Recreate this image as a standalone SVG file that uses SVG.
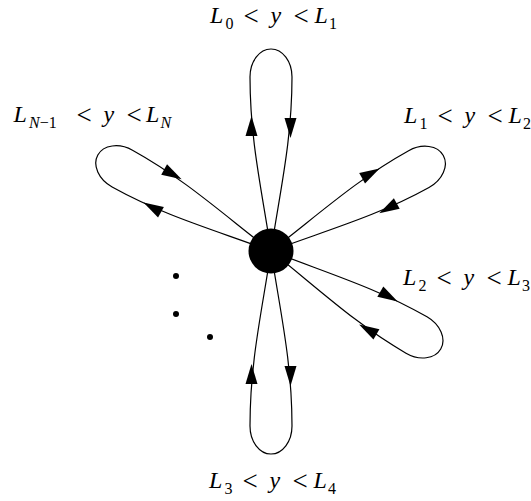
<svg xmlns="http://www.w3.org/2000/svg" xmlns:xlink="http://www.w3.org/1999/xlink" width="531" height="501" viewBox="0 0 531 501">
<style>
.loop{fill:none;stroke:#000;stroke-width:1.2}
.ah{fill:#000;stroke:none}
text{font-family:'Liberation Serif','Times New Roman',Times,serif;font-size:24px;fill:#000}
.it{font-style:italic}
.sub{font-size:16px}
.rel{font-size:27px}
</style>
<defs>
<polygon id="arrOut" class="ah" points="135,-19.5 115,-25.5 115,-13.5"/>
<polygon id="arrIn" class="ah" points="113,19.5 133,13.5 133,25.5"/>
</defs>
<rect width="531" height="501" fill="#fff"/>
<g id="connectors">
<g id="loop-top" transform="translate(271,251) rotate(-90)"><path class="loop" d="M0,0 C60,-9 110,-21 174,-21 C189.5,-21 202,-11.6 202,0 C202,11.6 189.5,21 174,21 C110,21 60,9 0,0"/><use xlink:href="#arrOut"/><use xlink:href="#arrIn"/></g>
<g id="loop-right-upper" transform="translate(271,251) rotate(-29)"><path class="loop" d="M0,0 C60,-9 110,-21 169,-21 C184.5,-21 197,-11.6 197,0 C197,11.6 184.5,21 169,21 C110,21 60,9 0,0"/><use xlink:href="#arrOut"/><use xlink:href="#arrIn"/></g>
<g id="loop-right-lower" transform="translate(271,251) rotate(30)"><path class="loop" d="M0,0 C60,-9 110,-21 168,-21 C183.5,-21 196,-11.6 196,0 C196,11.6 183.5,21 168,21 C110,21 60,9 0,0"/><use xlink:href="#arrOut"/><use xlink:href="#arrIn"/></g>
<g id="loop-bottom" transform="translate(271,251) rotate(90)"><path class="loop" d="M0,0 C60,-9 110,-21 175,-21 C190.5,-21 203,-11.6 203,0 C203,11.6 190.5,21 175,21 C110,21 60,9 0,0"/><use xlink:href="#arrOut"/><use xlink:href="#arrIn"/></g>
<g id="loop-left" transform="translate(271,251) rotate(209)"><path class="loop" d="M0,0 C60,-9 110,-21 170,-21 C185.5,-21 198,-11.6 198,0 C198,11.6 185.5,21 170,21 C110,21 60,9 0,0"/><use xlink:href="#arrOut"/><use xlink:href="#arrIn"/></g>
</g>
<g id="center-node"><circle cx="271" cy="251" r="22.5" fill="#000"/></g>
<g id="dots" fill="#000">
<circle cx="176" cy="276" r="3"/>
<circle cx="176" cy="314" r="3"/>
<circle cx="210" cy="337" r="3"/>
</g>
<g id="label-top"><text><tspan class="it" x="210" y="23">L</tspan><tspan class="sub" x="225.5" y="28.5">0</tspan> <tspan class="rel" x="243.4" y="24.5">&lt;</tspan> <tspan class="it" x="270.4" y="23">y</tspan> <tspan class="rel" x="293.4" y="24.5">&lt;</tspan> <tspan class="it" x="314.5" y="23">L</tspan><tspan class="sub" x="329" y="28.5">1</tspan></text></g>
<g id="label-left"><text><tspan class="it" x="13.5" y="122">L</tspan><tspan class="sub" x="29" y="127.5"><tspan class="it">N</tspan>−1</tspan> <tspan class="rel" x="76.6" y="123.5">&lt;</tspan> <tspan class="it" x="103.6" y="122">y</tspan> <tspan class="rel" x="126.6" y="123.5">&lt;</tspan> <tspan class="it" x="146" y="122">L</tspan><tspan class="sub it" x="160.5" y="127.5">N</tspan></text></g>
<g id="label-right-upper"><text><tspan class="it" x="404" y="123">L</tspan><tspan class="sub" x="419.5" y="128.5">1</tspan> <tspan class="rel" x="437.4" y="124.5">&lt;</tspan> <tspan class="it" x="464.4" y="123">y</tspan> <tspan class="rel" x="487.4" y="124.5">&lt;</tspan> <tspan class="it" x="508.5" y="123">L</tspan><tspan class="sub" x="523" y="128.5">2</tspan></text></g>
<g id="label-right-lower"><text><tspan class="it" x="403" y="285">L</tspan><tspan class="sub" x="418.5" y="290.5">2</tspan> <tspan class="rel" x="436.4" y="286.5">&lt;</tspan> <tspan class="it" x="463.4" y="285">y</tspan> <tspan class="rel" x="486.4" y="286.5">&lt;</tspan> <tspan class="it" x="507.5" y="285">L</tspan><tspan class="sub" x="522" y="290.5">3</tspan></text></g>
<g id="label-bottom"><text><tspan class="it" x="209" y="488">L</tspan><tspan class="sub" x="224.5" y="493.5">3</tspan> <tspan class="rel" x="242.4" y="489.5">&lt;</tspan> <tspan class="it" x="269.4" y="488">y</tspan> <tspan class="rel" x="292.4" y="489.5">&lt;</tspan> <tspan class="it" x="313.5" y="488">L</tspan><tspan class="sub" x="328" y="493.5">4</tspan></text></g>
</svg>
